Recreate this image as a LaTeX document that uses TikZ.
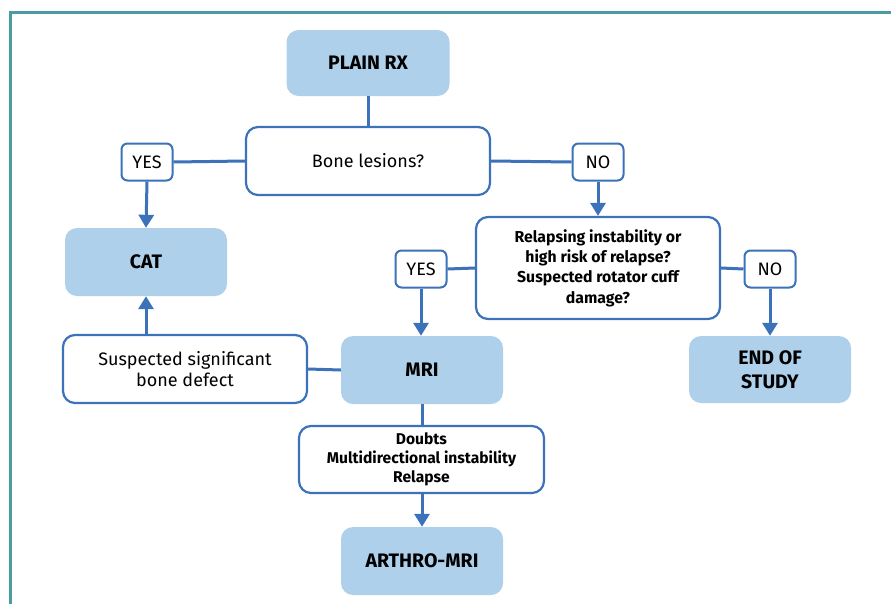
\documentclass[tikz,border=0pt]{standalone}
\usepackage{fontspec}
\setmainfont{Fira Sans}
\usetikzlibrary{arrows.meta,calc}
\definecolor{fillblue}{HTML}{AED0EA}
\definecolor{lineblue}{HTML}{3B72B9}
\definecolor{frameteal}{HTML}{4A9BA2}
\tikzset{
  solid box/.style={fill=fillblue, rounded corners=12pt, align=center, inner sep=0pt, font=\bfseries\fontsize{19.5}{24}\selectfont},
  qbox/.style={draw=lineblue, line width=2.2pt, fill=white, rounded corners=12pt, align=center, inner sep=0pt},
  tag/.style={draw=lineblue, line width=2pt, fill=white, rounded corners=6pt, inner sep=0pt, minimum width=51pt, minimum height=37pt, font=\fontsize{18}{20}\selectfont},
  conn/.style={draw=lineblue, line width=3pt},
  arr/.style={conn, -{Triangle[length=13pt,width=15pt]}},
}
\begin{document}
\begin{tikzpicture}[x=1pt,y=-1pt]
\useasboundingbox (0,0) rectangle (891,603);
\draw[frameteal, line width=2.6pt] (10.5,604) -- (10.5,12.5) -- (892,12.5);

\node[solid box, minimum width=163pt, minimum height=66pt] (rx) at (368,63) {PLAIN RX};
\node[qbox, minimum width=244pt, minimum height=68pt, font=\fontsize{18}{21}\selectfont] (bone) at (368,161) {Bone lesions?};
\node[tag] (yes1) at (147,162) {YES};
\node[tag] (no1) at (598,162) {NO};
\node[solid box, minimum width=162pt, minimum height=68pt] (cat) at (146,262) {CAT};
\node[qbox, minimum width=244pt, minimum height=102pt, font=\bfseries\fontsize{15.8}{20.3}\selectfont] (rel) at (598,268) {Relapsing instability or\\high risk of relapse?\\Suspected rotator cuff\\damage?};
\node[tag] (yes2) at (421,269) {YES};
\node[tag] (no2) at (770,269) {NO};
\node[solid box, minimum width=162pt, minimum height=68pt] (mri) at (422,370) {MRI};
\node[qbox, minimum width=244pt, minimum height=68pt, font=\fontsize{18}{21}\selectfont] (sus) at (185,369) {Suspected significant\\bone defect};
\node[solid box, minimum width=162pt, minimum height=67pt] (end) at (770,369.5) {END OF\\STUDY};
\node[qbox, minimum width=245pt, minimum height=67pt, font=\bfseries\fontsize{15.6}{19}\selectfont] (dou) at (421.5,459.5) {Doubts\\Multidirectional instability\\Relapse};
\node[solid box, minimum width=162pt, minimum height=68pt] (art) at (422,561) {ARTHRO-MRI};

\draw[conn] (rx.south) -- (bone.north);
\draw[conn] (bone.west) -- (yes1.east);
\draw[arr] (yes1.south) -- (cat.north);
\draw[conn] (bone.east) -- (no1.west);
\draw[arr] (no1.south) -- (rel.north);
\draw[conn] (rel.west) -- (yes2.east);
\draw[arr] (yes2.south) -- (yes2.south |- mri.north);
\draw[conn] (rel.east) -- (no2.west);
\draw[arr] (no2.south) -- (end.north);
\draw[conn] (mri.west) -- (sus.east);
\draw[arr] (cat.south |- sus.north) -- (cat.south);
\draw[conn] (mri.south) -- (mri.south |- dou.north);
\draw[arr] (dou.south -| art.north) -- (art.north);
\end{tikzpicture}
\end{document}
